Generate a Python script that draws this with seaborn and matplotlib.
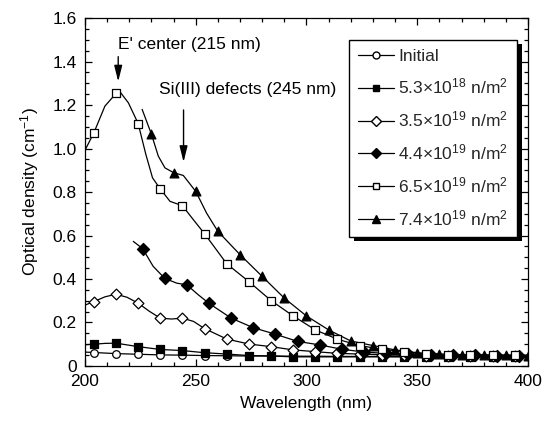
import numpy as np
import pandas as pd
import matplotlib
matplotlib.use("Agg")
import matplotlib.pyplot as plt
import seaborn as sns
from matplotlib.lines import Line2D
from matplotlib.patches import Rectangle
from matplotlib.transforms import IdentityTransform
from matplotlib.ticker import MultipleLocator, FuncFormatter

# ---------------- data ----------------
labels = ["Initial",
          "5.3×10$^{18}$ n/m$^2$",
          "3.5×10$^{19}$ n/m$^2$",
          "4.4×10$^{19}$ n/m$^2$",
          "6.5×10$^{19}$ n/m$^2$",
          "7.4×10$^{19}$ n/m$^2$"]

# marker positions (nm) and values
x_init = [204, 214, 224, 234, 244, 254, 264, 274, 284, 294, 304, 314, 324, 334, 344, 354, 364, 374, 384, 394]
y_init = [0.062, 0.057, 0.054, 0.051, 0.050, 0.048, 0.047, 0.046, 0.046, 0.045, 0.045, 0.044, 0.044,
          0.044, 0.043, 0.043, 0.043, 0.042, 0.042, 0.042]

x_53e18 = [204, 214, 224, 234, 244, 254, 264, 274, 284, 294, 304, 314, 324, 334, 344, 354, 364, 374, 384, 394]
y_53e18 = [0.100, 0.105, 0.089, 0.076, 0.071, 0.061, 0.055, 0.048, 0.046, 0.042, 0.042, 0.042, 0.042,
           0.042, 0.042, 0.042, 0.042, 0.042, 0.042, 0.042]

x_35e19 = [204, 214, 224, 234, 244, 254, 264, 274, 284, 294, 304, 314, 324, 334, 344, 354, 364, 374, 384, 394]
y_35e19 = [0.296, 0.330, 0.289, 0.220, 0.220, 0.172, 0.124, 0.101, 0.089, 0.074, 0.066, 0.058, 0.055,
           0.052, 0.050, 0.048, 0.047, 0.046, 0.046, 0.045]

x_44e19 = [226, 236, 246, 256, 266, 276, 286, 296, 306, 316, 326, 336, 346, 356, 366, 376, 386, 396]
y_44e19 = [0.540, 0.403, 0.373, 0.288, 0.220, 0.176, 0.146, 0.113, 0.097, 0.077, 0.064, 0.058, 0.054,
           0.052, 0.050, 0.049, 0.048, 0.047]

x_65e19 = [204, 214, 224, 234, 244, 254, 264, 274, 284, 294, 304, 314, 324, 334, 344, 354, 364, 374, 384, 394]
y_65e19 = [1.072, 1.253, 1.115, 0.814, 0.737, 0.608, 0.470, 0.388, 0.301, 0.230, 0.166, 0.123, 0.094,
           0.077, 0.066, 0.055, 0.052, 0.052, 0.050, 0.050]

x_74e19 = [230, 240, 250, 260, 270, 280, 290, 300, 310, 320, 330, 340, 350, 360, 370, 380, 390, 400]
y_74e19 = [1.066, 0.889, 0.803, 0.619, 0.512, 0.412, 0.312, 0.230, 0.166, 0.115, 0.094, 0.074, 0.061,
           0.055, 0.052, 0.050, 0.050, 0.048]

# extra points traced along each curve between / beyond the markers
cx_init = [200, 400]
cy_init = [0.064, 0.042]
cx_53e18 = [200, 209, 400]
cy_53e18 = [0.098, 0.104, 0.042]
cx_35e19 = [200, 209, 219, 229, 239, 249, 400]
cy_35e19 = [0.280, 0.318, 0.316, 0.252, 0.216, 0.205, 0.045]
cx_44e19 = [221.8, 230.8, 241.4, 251.2, 400]
cy_44e19 = [0.573, 0.458, 0.381, 0.327, 0.047]
cx_65e19 = [200, 209, 216, 219.6, 227.5, 230.5, 238.4, 248.9, 400]
cy_65e19 = [0.992, 1.195, 1.258, 1.210, 0.972, 0.865, 0.757, 0.673, 0.050]
cx_74e19 = [225.8, 233.1, 236.1, 244.4, 254.9]
cy_74e19 = [1.180, 0.965, 0.911, 0.876, 0.703]

marker_x = [x_init, x_53e18, x_35e19, x_44e19, x_65e19, x_74e19]
marker_y = [y_init, y_53e18, y_35e19, y_44e19, y_65e19, y_74e19]
curve_x = [cx_init, cx_53e18, cx_35e19, cx_44e19, cx_65e19, cx_74e19]
curve_y = [cy_init, cy_53e18, cy_35e19, cy_44e19, cy_65e19, cy_74e19]

# ---------------- styles ----------------
marker_shapes = ["o", "s", "D", "D", "s", "^"]
marker_faces = ["white", "black", "white", "black", "white", "black"]
marker_sizes = [30, 30, 30, 38, 34, 40]

sns.set_theme(style="ticks")
plt.rcParams["font.family"] = ["Liberation Sans", "DejaVu Sans"]
plt.rcParams["mathtext.fontset"] = "custom"
plt.rcParams["mathtext.rm"] = "Liberation Sans"
plt.rcParams["mathtext.it"] = "Liberation Sans"
plt.rcParams["mathtext.default"] = "regular"

fig = plt.figure(figsize=(5.54, 4.24), dpi=100)
ax = fig.add_axes([0.1534, 0.1368, 0.7996, 0.8207])

for i in range(len(labels)):
    df_line = pd.DataFrame({"x": list(marker_x[i]) + list(curve_x[i]),
                            "y": list(marker_y[i]) + list(curve_y[i])})
    df_line = df_line.drop_duplicates("x").sort_values("x")
    sns.lineplot(data=df_line, x="x", y="y", ax=ax, color="black", lw=0.9,
                 estimator=None, sort=True, zorder=2)
for i in range(len(labels)):
    df_m = pd.DataFrame({"x": marker_x[i], "y": marker_y[i]})
    sns.scatterplot(data=df_m, x="x", y="y", ax=ax, marker=marker_shapes[i],
                    s=marker_sizes[i], color=marker_faces[i], edgecolor="black",
                    linewidth=0.9, zorder=3)

ax.set_xlim(200, 400)
ax.set_ylim(0, 1.6)
ax.xaxis.set_major_locator(MultipleLocator(50))
ax.xaxis.set_minor_locator(MultipleLocator(10))
ax.yaxis.set_major_locator(MultipleLocator(0.2))
ax.yaxis.set_minor_locator(MultipleLocator(0.05))
ax.yaxis.set_major_formatter(FuncFormatter(
    lambda v, p: "0" if abs(v) < 1e-9 else f"{v:.1f}"))
ax.tick_params(which="both", direction="in", top=True, right=True,
               labelsize=12.5, colors="black", width=0.9)
ax.tick_params(which="major", length=5, pad=6)
ax.tick_params(which="minor", length=3)
for s in ax.spines.values():
    s.set_color("black")
    s.set_linewidth(0.9)

ax.set_xlabel("Wavelength (nm)", fontsize=12.5, color="black", labelpad=5)
ax.set_ylabel("Optical density (cm$^{-1}$)", fontsize=12.5, color="black", labelpad=8)

# annotations
ax.annotate("", xy=(215, 1.295), xytext=(215, 1.435),
            arrowprops=dict(arrowstyle="-|>,head_length=0.8,head_width=0.2", color="black", lw=1))
ax.text(247, 1.48, "E' center (215 nm)", fontsize=12.5, ha="center", va="center", color="black")
ax.annotate("", xy=(244.5, 0.925), xytext=(244.5, 1.19),
            arrowprops=dict(arrowstyle="-|>,head_length=0.8,head_width=0.2", color="black", lw=1))
ax.text(273.5, 1.272, "Si(III) defects (245 nm)", fontsize=12.5, ha="center", va="center", color="black")

handles = [Line2D([0], [0], color="black", lw=0.9, marker=marker_shapes[i],
                  markerfacecolor=marker_faces[i], markeredgecolor="black",
                  markersize=5 if marker_shapes[i] != "^" else 6)
           for i in range(len(labels))]
leg = ax.legend(handles, labels, loc="upper left", bbox_to_anchor=(0.596, 0.937),
                fontsize=12.5, frameon=True, fancybox=False, edgecolor="black",
                framealpha=1, handlelength=2.1, handletextpad=0.25, labelspacing=0.75,
                borderpad=0.5, borderaxespad=0)
leg.get_frame().set_linewidth(1.0)
leg.set_zorder(10)

# heavy drop shadow of the legend box (right and bottom)
fig.canvas.draw()
bb = leg.get_frame().get_window_extent(fig.canvas.get_renderer())
shadow = Rectangle((bb.x0 + 5, bb.y0 - 4), bb.width, bb.height, transform=IdentityTransform(),
                   facecolor="black", edgecolor="none", zorder=9, clip_on=False)
ax.add_patch(shadow)

fig.savefig("out.png", dpi=100)
